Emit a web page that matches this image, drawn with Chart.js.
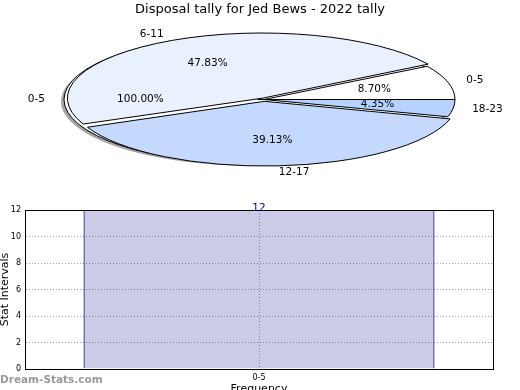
<!DOCTYPE html>
<html>
<head>
<meta charset="utf-8">
<script src="https://cdn.jsdelivr.net/npm/chart.js@4"></script>
<style>
  body { margin: 0; background: #fff; width: 520px; height: 390px; overflow: hidden; position: relative; font-family: "DejaVu Sans", sans-serif; }
  canvas { position: absolute; left: 0; }
  #totalPie { top: 0; }
  #pie { top: 0; }
  #bar { top: 195px; }
  #mark { position: absolute; left: 0; top: 373px; font: bold 10.5px "DejaVu Sans", sans-serif; color: #999; }
</style>
</head>
<body>
<canvas id="totalPie" width="520" height="390"></canvas>
<canvas id="pie" width="520" height="390"></canvas>
<canvas id="bar" width="520" height="210"></canvas>
<div id="mark">Dream-Stats.com</div>
<script>
const chartTitle = "Disposal tally for Jed Bews - 2022 tally";

// main pie, in the order the slices go round (counter-clockwise from 3 o'clock)
const pieLabels = ["0-5", "6-11", "12-17", "18-23"];
const pieValues = [2, 11, 9, 1];
const pieColors = ["#ffffff", "#eaf1fe", "#c5d9fe", "#b5d3fe"];
const pieExplode = [0, 17, 22, 0];

// the full-circle pie drawn behind it
const totalLabels = ["0-5"];
const totalValues = [12];

// bar chart
const barLabels = ["0-5"];
const barValues = [12];
const yTicks = [0, 2, 4, 6, 8, 10, 12];

const CY = 99.5;          // where the squashed pie is centred
const RATIO = 64 / 191;   // vertical squash
const proto = CanvasRenderingContext2D.prototype;
const labelledPies = [];  // pies whose labels go on the top canvas

function shiftOf(el) {
    const off = (el.options.offset || 0) / 4;
    const fix = 1 - Math.sin(Math.min(Math.PI, el.endAngle - el.startAngle));
    return off + off * fix;
}

// slice names outside, percentages inside
function drawPieLabels(ctx, chart) {
    const ds = chart.data.datasets[0];
    const total = ds.data.reduce((a, b) => a + b, 0);
    ctx.save();
    ctx.fillStyle = "#000";
    ctx.textBaseline = "middle";
    ctx.font = "10.5px 'DejaVu Sans'";
    chart.getDatasetMeta(0).data.forEach((el, i) => {
        const mid = (el.startAngle + el.endAngle) / 2;
        const s = shiftOf(el);
        const c = Math.cos(mid), n = Math.sin(mid);
        const r = el.outerRadius;
        ctx.textAlign = c < 0 ? "right" : "left";
        ctx.fillText(chart.data.labels[i], el.x + c * (1.1 * r + s), CY + n * (1.1 * r + s) * RATIO);
        ctx.textAlign = "center";
        ctx.fillText((ds.data[i] / total * 100).toFixed(2) + "%", el.x + c * (0.6 * r + s), CY + n * (0.6 * r + s) * RATIO);
    });
    ctx.restore();
}

const squash = {
    id: "squash",
    beforeDatasetsDraw(chart, args, opts) {
        const ctx = chart.ctx;
        const els = chart.getDatasetMeta(0).data;
        const base = ctx.getTransform();
        ctx.save();
        ctx.translate(0, CY);
        ctx.scale(1, RATIO);
        ctx.translate(0, -els[0].y);
        if (opts.shadow) {
            els.forEach(el => {
                const mid = (el.startAngle + el.endAngle) / 2;
                const s = shiftOf(el);
                ctx.save();
                ctx.translate(-2 + Math.cos(mid) * s, 2 / RATIO + Math.sin(mid) * s);
                ctx.beginPath();
                ctx.moveTo(el.x, el.y);
                ctx.arc(el.x, el.y, el.outerRadius + 1, el.startAngle, el.endAngle);
                ctx.closePath();
                ctx.fillStyle = "rgba(90,90,90,0.55)";
                ctx.fill();
                ctx.restore();
            });
        }
        // keep line widths even after squashing
        ctx.stroke = function () {
            this.save();
            this.setTransform(base);
            proto.stroke.call(this);
            this.restore();
        };
    },
    afterDatasetsDraw(chart) {
        delete chart.ctx.stroke;
        chart.ctx.restore();
    },
    afterDraw(chart, args, opts) {
        if (!opts.labels) return;
        labelledPies.forEach(c => drawPieLabels(chart.ctx, c));
        drawPieLabels(chart.ctx, chart);
    }
};

function pieOptions(padLeft, showTitle, shadow, labels) {
    return {
        responsive: false,
        animation: false,
        rotation: 90,
        radius: 191,
        layout: { padding: { left: padLeft } },
        events: [],
        plugins: {
            legend: { display: false },
            tooltip: { enabled: false },
            squash: { shadow: shadow, labels: labels },
            title: {
                display: showTitle,
                text: chartTitle,
                color: "#000",
                font: { family: "DejaVu Sans", size: 13, weight: "normal", lineHeight: 1.2 },
                padding: { top: 2, bottom: 6 }
            }
        }
    };
}

const totalChart = new Chart(document.getElementById("totalPie"), {
    type: "pie",
    data: {
        labels: totalLabels,
        datasets: [{
            data: totalValues,
            backgroundColor: "#ffffff",
            borderColor: "#000",
            borderWidth: 1,
            offset: 10,
            clip: false
        }]
    },
    options: pieOptions(0, true, true, false),
    plugins: [squash]
});
labelledPies.push(totalChart);

new Chart(document.getElementById("pie"), {
    type: "pie",
    data: {
        labels: pieLabels.slice().reverse(),
        datasets: [{
            data: pieValues.slice().reverse(),
            backgroundColor: pieColors.slice().reverse(),
            borderColor: "#000",
            borderWidth: 1,
            offset: pieExplode.slice().reverse(),
            clip: false
        }]
    },
    options: pieOptions(8, false, false, true),
    plugins: [squash]
});

const barExtras = {
    id: "barExtras",
    afterDraw(chart) {
        const ctx = chart.ctx;
        const a = chart.chartArea;
        ctx.save();
        ctx.strokeStyle = "#000";
        ctx.lineWidth = 1;
        ctx.strokeRect(Math.round(a.left) + 0.5, Math.round(a.top) + 0.5, Math.round(a.right - a.left), Math.round(a.bottom - a.top));
        ctx.fillStyle = "#000080";
        ctx.font = "10.5px 'DejaVu Sans'";
        ctx.textAlign = "center";
        ctx.textBaseline = "alphabetic";
        chart.getDatasetMeta(0).data.forEach((bar, i) => {
            ctx.fillText(String(barValues[i]), bar.x, bar.y + 1);
        });
        ctx.restore();
    }
};

new Chart(document.getElementById("bar"), {
    type: "bar",
    data: {
        labels: barLabels,
        datasets: [{
            data: barValues,
            backgroundColor: "rgba(0,0,128,0.2)",
            borderColor: "#000080",
            borderWidth: 1,
            borderSkipped: "bottom",
            barPercentage: 0.75,
            categoryPercentage: 1
        }]
    },
    options: {
        responsive: false,
        animation: false,
        events: [],
        layout: { padding: { top: 15, right: 27, left: 0, bottom: 0 } },
        plugins: { legend: { display: false }, tooltip: { enabled: false } },
        scales: {
            x: {
                z: 1,
                afterFit: s => { s.height = 36; },
                grid: { offset: false, drawTicks: false, color: "rgba(120,120,120,0.7)", lineWidth: 1 },
                border: { display: true, color: "#000", dash: [1, 2] },
                ticks: { color: "#000", font: { family: "DejaVu Sans", size: 8 }, padding: 4 },
                title: { display: true, text: "Frequency", color: "#000", font: { family: "DejaVu Sans", size: 11, lineHeight: 1 }, padding: { top: 0, bottom: 10 } }
            },
            y: {
                z: 1,
                min: 0,
                max: 12,
                afterFit: s => { s.width = 25; },
                afterBuildTicks: s => { s.ticks = yTicks.map(v => ({ value: v })); },
                grid: { drawTicks: false, color: "rgba(120,120,120,0.7)", lineWidth: 1 },
                border: { display: true, color: "#000", dash: [1, 2] },
                ticks: { color: "#000", font: { family: "DejaVu Sans", size: 8 }, padding: 4 },
                title: { display: true, text: "Stat Intervals", color: "#000", font: { family: "DejaVu Sans", size: 11, lineHeight: 1 }, padding: { top: 0, bottom: 0 } }
            }
        }
    },
    plugins: [barExtras]
});
</script>
</body>
</html>
